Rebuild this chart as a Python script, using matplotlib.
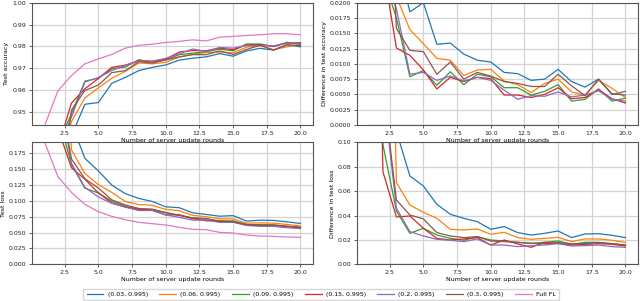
import matplotlib
matplotlib.use("Agg")
import matplotlib.pyplot as plt
import numpy as np

rounds = list(range(1, 21))
labels = ["(0.03, 0.995)", "(0.06, 0.995)", "(0.09, 0.995)", "(0.15, 0.995)",
          "(0.2, 0.995)", "(0.3, 0.995)", "Full FL"]
colors = ["tab:blue", "tab:orange", "tab:green", "tab:red", "tab:purple", "tab:brown", "tab:pink"]

# test accuracy per configuration (last one is Full FL)
acc_003 = [0.7035, 0.900, 0.9390, 0.9535, 0.9543, 0.9631, 0.9658, 0.9689, 0.9704, 0.9715,
           0.9737, 0.9746, 0.9752, 0.9767, 0.9755, 0.9779, 0.9791, 0.9783, 0.9808, 0.9798]
acc_006 = [0.7235, 0.9247, 0.9456, 0.9564, 0.9610, 0.9654, 0.9686, 0.9724, 0.9720, 0.9727,
           0.9751, 0.9764, 0.9772, 0.9774, 0.9771, 0.9796, 0.9804, 0.9785, 0.9798, 0.9808]
acc_009 = [0.7435, 0.9354, 0.9491, 0.9641, 0.9654, 0.9698, 0.9705, 0.9739, 0.9727, 0.9739,
           0.9762, 0.9769, 0.9776, 0.9787, 0.9780, 0.9811, 0.9811, 0.9799, 0.9819, 0.9809]
acc_015 = [0.7435, 0.9337, 0.9540, 0.9606, 0.9653, 0.9704, 0.9714, 0.9734, 0.9732, 0.9742,
           0.9774, 0.9781, 0.9780, 0.9792, 0.9785, 0.9807, 0.9808, 0.9800, 0.9815, 0.9817]
acc_020 = [0.7435, 0.9330, 0.9476, 0.9637, 0.9657, 0.9690, 0.9712, 0.9733, 0.9732, 0.9745,
           0.9766, 0.9788, 0.9777, 0.9795, 0.9792, 0.9804, 0.9804, 0.9802, 0.9816, 0.9814]
acc_030 = [0.7435, 0.900, 0.9508, 0.9598, 0.9623, 0.9680, 0.9689, 0.9730, 0.9724, 0.9738,
           0.9752, 0.9762, 0.9762, 0.9779, 0.9763, 0.9786, 0.9805, 0.9783, 0.9807, 0.9804]
acc_full = [0.9435, 0.9597, 0.9666, 0.9720, 0.9743, 0.9763, 0.9792, 0.9805, 0.9810, 0.9818,
            0.9823, 0.9830, 0.9825, 0.9842, 0.9846, 0.9850, 0.9853, 0.9858, 0.9858, 0.9853]

# difference in test accuracy (Full FL minus configuration)
dacc_003 = [0.24, 0.06, 0.0276, 0.0185, 0.0200, 0.0132, 0.0134, 0.0116, 0.0106, 0.0103,
            0.0086, 0.0084, 0.0073, 0.0075, 0.0091, 0.0071, 0.0062, 0.0075, 0.0050, 0.0055]
dacc_006 = [0.22, 0.035, 0.021, 0.0156, 0.0133, 0.0109, 0.0106, 0.0081, 0.0090, 0.0091,
            0.0072, 0.0066, 0.0053, 0.0068, 0.0075, 0.0054, 0.0049, 0.0073, 0.0060, 0.0045]
dacc_009 = [0.20, 0.0243, 0.0175, 0.0079, 0.0089, 0.0065, 0.0087, 0.0066, 0.0083, 0.0079,
            0.0061, 0.0061, 0.0049, 0.0055, 0.0066, 0.0039, 0.0042, 0.0059, 0.0039, 0.0044]
dacc_015 = [0.20, 0.026, 0.0126, 0.0114, 0.0090, 0.0059, 0.0078, 0.0071, 0.0078, 0.0076,
            0.0049, 0.0049, 0.0045, 0.0050, 0.0061, 0.0043, 0.0045, 0.0058, 0.0043, 0.0036]
dacc_020 = [0.20, 0.0267, 0.019, 0.0083, 0.0086, 0.0073, 0.0080, 0.0072, 0.0078, 0.0073,
            0.0057, 0.0042, 0.0048, 0.0047, 0.0054, 0.0046, 0.0049, 0.0056, 0.0042, 0.0039]
dacc_030 = [0.20, 0.06, 0.0158, 0.0122, 0.0120, 0.0083, 0.0103, 0.0075, 0.0086, 0.0080,
            0.0071, 0.0068, 0.0063, 0.0063, 0.0083, 0.0064, 0.0048, 0.0075, 0.0051, 0.0049]
dacc_full = [0.0] * 20

# test loss
loss_003 = [1.693, 1.0378, 0.2222, 0.1667, 0.1470, 0.1246, 0.1112, 0.1037, 0.0989, 0.0905,
            0.0891, 0.0810, 0.0785, 0.0757, 0.0766, 0.0680, 0.0694, 0.0691, 0.0668, 0.0643]
loss_006 = [1.593, 0.7378, 0.1802, 0.1429, 0.1254, 0.1131, 0.0989, 0.0941, 0.0929, 0.0864,
            0.0844, 0.0769, 0.0750, 0.0716, 0.0714, 0.0647, 0.0653, 0.0648, 0.0627, 0.0604]
loss_009 = [1.193, 0.2358, 0.1569, 0.1197, 0.1123, 0.0994, 0.0915, 0.0857, 0.0866, 0.0817,
            0.0773, 0.0730, 0.0717, 0.0683, 0.0684, 0.0625, 0.0625, 0.0620, 0.0599, 0.0582]
loss_015 = [0.793, 0.2136, 0.1520, 0.1339, 0.1123, 0.0967, 0.0901, 0.0868, 0.0858, 0.0776,
            0.0781, 0.0717, 0.0684, 0.0683, 0.0665, 0.0619, 0.0609, 0.0609, 0.0594, 0.0574]
loss_020 = [1.193, 0.2818, 0.1592, 0.1211, 0.1060, 0.0959, 0.0899, 0.0846, 0.0847, 0.0776,
            0.0740, 0.0695, 0.0698, 0.0661, 0.0662, 0.0611, 0.0598, 0.0598, 0.0575, 0.0563]
loss_030 = [1.193, 0.2848, 0.1659, 0.1347, 0.1200, 0.1014, 0.0934, 0.0879, 0.0866, 0.0809,
            0.0768, 0.0730, 0.0717, 0.0672, 0.0671, 0.0628, 0.0614, 0.0618, 0.0599, 0.0582]
loss_full = [0.193, 0.1378, 0.1132, 0.0943, 0.0828, 0.0754, 0.0702, 0.0660, 0.0639, 0.0618,
             0.0582, 0.0550, 0.0545, 0.0503, 0.0493, 0.0461, 0.0445, 0.0440, 0.0430, 0.0424]

# difference in test loss (configuration minus Full FL)
dloss_003 = [1.5, 0.9, 0.109, 0.0724, 0.0642, 0.0492, 0.0410, 0.0377, 0.0350, 0.0287,
             0.0309, 0.0260, 0.0240, 0.0254, 0.0273, 0.0219, 0.0249, 0.0251, 0.0238, 0.0219]
dloss_006 = [1.4, 0.6, 0.067, 0.0486, 0.0426, 0.0377, 0.0287, 0.0281, 0.0290, 0.0246,
             0.0262, 0.0219, 0.0205, 0.0213, 0.0221, 0.0186, 0.0208, 0.0208, 0.0197, 0.0180]
dloss_009 = [1.0, 0.098, 0.0437, 0.0254, 0.0295, 0.0240, 0.0213, 0.0197, 0.0227, 0.0199,
             0.0191, 0.0180, 0.0172, 0.0180, 0.0191, 0.0164, 0.0180, 0.0180, 0.0169, 0.0158]
dloss_015 = [0.6, 0.0758, 0.0388, 0.0396, 0.0295, 0.0213, 0.0199, 0.0208, 0.0219, 0.0158,
             0.0199, 0.0167, 0.0139, 0.0180, 0.0172, 0.0158, 0.0164, 0.0169, 0.0164, 0.0150]
dloss_020 = [1.0, 0.144, 0.046, 0.0268, 0.0232, 0.0205, 0.0197, 0.0186, 0.0208, 0.0158,
             0.0158, 0.0145, 0.0153, 0.0158, 0.0169, 0.0150, 0.0153, 0.0158, 0.0145, 0.0139]
dloss_030 = [1.0, 0.147, 0.0527, 0.0404, 0.0372, 0.0260, 0.0232, 0.0219, 0.0227, 0.0191,
             0.0186, 0.0180, 0.0172, 0.0169, 0.0178, 0.0167, 0.0169, 0.0178, 0.0169, 0.0158]
dloss_full = [0.0] * 20

panels = [
    ([acc_003, acc_006, acc_009, acc_015, acc_020, acc_030, acc_full], "Test accuracy", (0.944, 1.0)),
    ([dacc_003, dacc_006, dacc_009, dacc_015, dacc_020, dacc_030, dacc_full], "Difference in test accuracy", (0.0, 0.02)),
    ([loss_003, loss_006, loss_009, loss_015, loss_020, loss_030, loss_full], "Test loss", (0.0, 0.192)),
    ([dloss_003, dloss_006, dloss_009, dloss_015, dloss_020, dloss_030, dloss_full], "Difference in test loss", (0.0, 0.1)),
]

fs = 4.5
fig = plt.figure(figsize=(6.4, 3.01), dpi=100)
boxes = [[0.0495, 0.5847, 0.44, 0.4063], [0.5573, 0.5847, 0.44, 0.4063],
         [0.0495, 0.1219, 0.44, 0.4053], [0.5573, 0.1219, 0.44, 0.4053]]

for box, (series, ylabel, ylim) in zip(boxes, panels):
    ax = fig.add_axes(box)
    # Full FL first so it sits under the others
    order = [6, 0, 1, 2, 3, 4, 5]
    for i in order:
        ax.plot(rounds, series[i], color=colors[i], lw=0.9, label=labels[i])
    ax.set_ylim(*ylim)
    ax.grid(True, color="#d3d3d3", lw=0.9)
    ax.set_axisbelow(True)
    ax.tick_params(labelsize=fs, length=2, width=0.5, pad=2, colors="#222222")
    for s in ax.spines.values():
        s.set_color("#555555")
        s.set_linewidth(0.8)
    ax.set_ylabel(ylabel, fontsize=fs, labelpad=2)
    ax.set_xlabel("Number of server update rounds", fontsize=fs, labelpad=1.5)

handles = [plt.Line2D([], [], color=c, lw=0.9) for c in colors]
fig.legend(handles, labels, loc="center", bbox_to_anchor=(0.502, 0.022), ncol=7,
           fontsize=fs, frameon=True, handlelength=2.7, columnspacing=1.85,
           borderpad=0.5, handletextpad=0.65, edgecolor="#cccccc", fancybox=True)

fig.savefig("out.png", dpi=100)
